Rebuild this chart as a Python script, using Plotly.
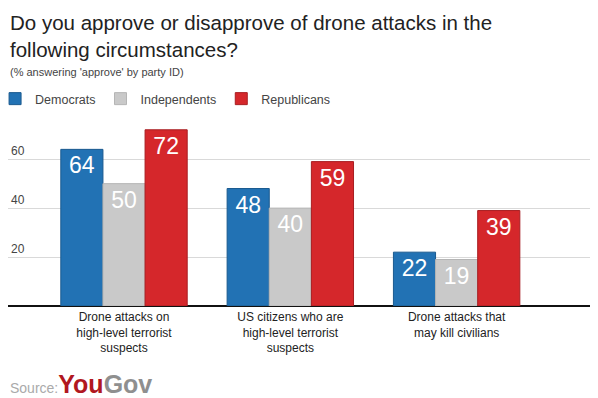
import plotly.graph_objects as go

categories = [
    "Drone attacks on<br>high-level terrorist<br>suspects",
    "US citizens who are<br>high-level terrorist<br>suspects",
    "Drone attacks that<br>may kill civilians",
]
democrats = [64, 48, 22]
independents = [50, 40, 19]
republicans = [72, 59, 39]
tick_vals = [20, 40, 60]

series = [
    ("Democrats", democrats, "#2272b4", "#1a5a8f"),
    ("Independents", independents, "#c9c9c9", "#b5b5b5"),
    ("Republicans", republicans, "#d5272b", "#a81e22"),
]

FONT = "Arial, Liberation Sans, sans-serif"
W, H = 590, 390
T, B, L, R = 112, 92, 0, 2
PH = H - T - B


def py(pix):
    # pix: vertical position in page pixels (page = figure + 8px body margin)
    return (H - B - (pix - 8)) / PH


fig = go.Figure()
for name, vals, color, line in series:
    fig.add_trace(go.Bar(
        name=name,
        x=list(range(len(categories))),
        y=vals,
        text=[str(v) for v in vals],
        textposition="inside",
        insidetextanchor="end",
        textfont=dict(color="white", size=23, family=FONT),
        marker=dict(color=color, line=dict(color=line, width=1)),
    ))

fig.update_layout(
    width=W, height=H,
    margin=dict(l=L, r=R, t=T, b=B, autoexpand=False),
    paper_bgcolor="white", plot_bgcolor="white",
    barmode="group", bargap=0.24, bargroupgap=0,
    font=dict(family=FONT, color="#333"),
    legend=dict(
        orientation="h", x=-0.022, xanchor="left", y=py(84), yanchor="top",
        font=dict(size=12.5, color="#444"), traceorder="normal",
    ),
    showlegend=True,
)

fig.update_xaxes(
    tickvals=list(range(len(categories))), ticktext=categories,
    range=[-0.6975, 2.838], showgrid=False, ticks="",
    tickfont=dict(size=12, color="#222"),
    showline=False, zeroline=False, automargin=False,
    ticklabelstandoff=2,
)
fig.update_yaxes(
    range=[0, 76], tickvals=tick_vals,
    ticklabelposition="inside top",
    tickfont=dict(size=12, color="#444"),
    showgrid=True, gridcolor="#d9d9d9", gridwidth=1,
    zeroline=True, zerolinecolor="#111", zerolinewidth=1.5,
    showline=False, ticks="", automargin=False,
)

fig.add_annotation(
    text="Do you approve or disapprove of drone attacks in the<br>following circumstances?",
    xref="paper", yref="paper", x=0, y=py(8.5), xanchor="left", yanchor="top",
    align="left", showarrow=False, font=dict(size=20.5, color="#222"),
)
fig.add_annotation(
    text="(% answering 'approve' by party ID)",
    xref="paper", yref="paper", x=0, y=py(72), xanchor="left", yanchor="middle",
    showarrow=False, font=dict(size=11, color="#444"),
)
fig.add_annotation(
    text='Source:<span style="font-family:\'Liberation Sans Narrow\', \'Arial Narrow\', Arial; font-size:25px; font-weight:bold"><span style="color:#b11720">You</span><span style="color:#8f8f8f">Gov</span></span>',
    xref="paper", yref="paper", x=0.0, y=py(384), xanchor="left", yanchor="middle",
    showarrow=False, font=dict(size=14, color="#aaa"),
)

fig.write_html("out.html")
